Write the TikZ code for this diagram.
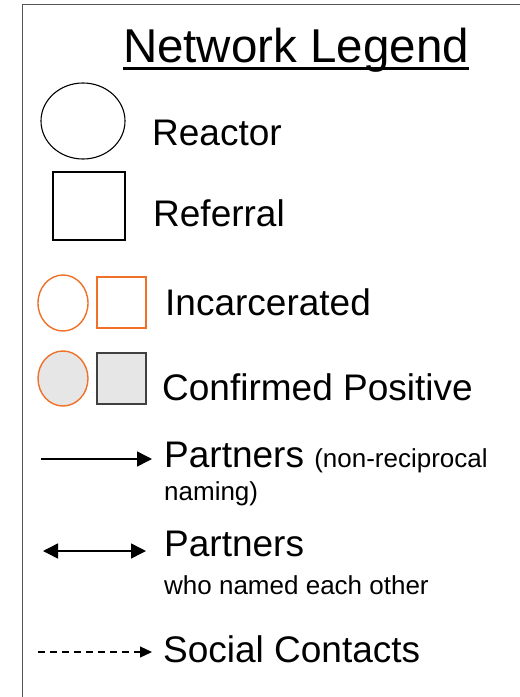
\documentclass[tikz,border=0pt]{standalone}
\usepackage{fontspec}
\setmainfont{Liberation Sans}
\usetikzlibrary{shapes.geometric, arrows.meta, calc}
\definecolor{JailOrange}{RGB}{240, 112, 40}
\definecolor{PosGray}{RGB}{230, 230, 230}
\definecolor{FrameGray}{RGB}{85, 85, 85}
\definecolor{BoxGray}{RGB}{64, 64, 64}

\tikzset{
    big text/.style={anchor=base west, inner sep=0pt, font=\fontsize{37}{44}\selectfont},
    small text/.style={anchor=base west, inner sep=0pt, font=\fontsize{26}{31}\selectfont},
    oval/.style={draw, ellipse, inner sep=0pt},
    boxy/.style={draw, rectangle, inner sep=0pt},
    partner arrow/.style={line width=1.5pt, -{Triangle[length=15pt, width=15pt]}},
    mutual arrow/.style={line width=1.5pt, {Triangle[length=15pt, width=15pt]}-{Triangle[length=15pt, width=15pt]}},
}

\begin{document}
\begin{tikzpicture}[x=1pt, y=-1pt]
    \useasboundingbox (0,0) rectangle (520,697);

    % Marco
    \draw[FrameGray, line width=1.3pt] (520,4.5) -- (22.5,4.5) -- (22.5,697);

    % Titulo subrayado
    \node[anchor=base, inner sep=0pt, font=\fontsize{47.5}{57}\selectfont] (title) at (296,62) {Network Legend};
    \draw[line width=3pt] ($(title.base west)+(0,6.5)$) -- ($(title.base east)+(0,6.5)$);

    % Reactor y referral
    \node[oval, line width=1.1pt, minimum width=84pt, minimum height=76pt] (reactor) at (83,121) {};
    \node[big text] (reactorlbl) at (152,145) {Reactor};
    \node[boxy, line width=1.1pt, minimum width=72pt, minimum height=68pt] (referral) at (89,206) {};
    \node[big text] (referrallbl) at (153,226) {Referral};

    % Incarcerados
    \node[oval, JailOrange, line width=1.4pt, minimum width=50pt, minimum height=56pt] (jailoval) at (63,303) {};
    \node[boxy, JailOrange, line width=1.4pt, minimum width=49pt, minimum height=51pt] (jailbox) at (121.5,302.5) {};
    \node[big text] (jaillbl) at (165,315) {Incarcerated};

    % Positivos confirmados
    \node[oval, JailOrange, fill=PosGray, line width=1.4pt, minimum width=50pt, minimum height=55pt] (posoval) at (63,378.5) {};
    \node[boxy, BoxGray, fill=PosGray, line width=1.4pt, minimum width=49pt, minimum height=51pt] (posbox) at (121.5,378.5) {};
    \node[big text] (poslbl) at (162,400) {Confirmed Positive};

    % Parejas (una direccion)
    \coordinate (onefrom) at (41,459);
    \coordinate (oneto) at (152,459);
    \draw[partner arrow] (onefrom) -- (oneto);
    \node[big text] (onelbl) at (164,467) {Partners \fontsize{26}{31}\selectfont(non-reciprocal};
    \node[small text] (onelbltwo) at (164,500) {naming)};

    % Parejas (mutuas)
    \coordinate (bothfrom) at (43,551);
    \coordinate (bothto) at (146,551);
    \draw[mutual arrow] (bothfrom) -- (bothto);
    \node[big text] (bothlbl) at (164,556) {Partners};
    \node[small text] (bothlbltwo) at (164,594) {who named each other};

    % Contactos sociales
    \coordinate (socfrom) at (38,652);
    \coordinate (socto) at (152,652);
    \draw[line width=1.2pt, dash pattern=on 7pt off 5pt, -{Triangle[length=12pt, width=11pt]}] (socfrom) -- (socto);
    \node[big text] (soclbl) at (163,662) {Social Contacts};
\end{tikzpicture}
\end{document}
